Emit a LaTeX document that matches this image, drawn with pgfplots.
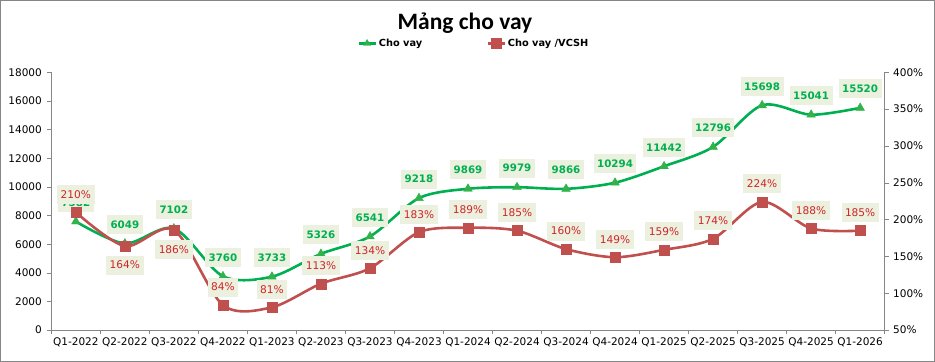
\documentclass[border=0pt]{standalone}
\usepackage{fontspec}
\setmainfont{DejaVu Sans}
\newfontfamily\carlito{Carlito}
\usepackage{pgfplots}
\usepackage{pgfplotstable}
\pgfplotsset{compat=1.18}
\definecolor{cvgreen}{RGB}{0,176,80}
\definecolor{cvgreenmk}{RGB}{50,178,75}
\definecolor{cvred}{RGB}{192,80,77}
\definecolor{cvredtxt}{RGB}{210,35,40}
\definecolor{lblfill}{RGB}{235,241,222}
\definecolor{axgray}{RGB}{134,134,134}

\pgfplotstableread{
x y dy
0 7582 19
1 6049 19
2 7102 19
3 3760 19
4 3733 19
5 5326 19
6 6541 19
7 9218 19
8 9869 19
9 9979 19
10 9866 19
11 10294 19
12 11442 19
13 12796 19
14 15698 19
15 15041 19
16 15520 19
}\loantable

\pgfplotstableread{
x y dy
0 210 18
1 164 -19
2 186 -20
3 84 18
4 81 18
5 113 18
6 134 18
7 183 18
8 189 18
9 185 18
10 160 18
11 149 18
12 159 18
13 174 18
14 224 18
15 188 18
16 185 18
}\ratiotable

\tikzset{lbl/.style={fill=lblfill, inner xsep=3.5pt, minimum height=19pt, anchor=center}}

\pgfplotsset{
  common/.style={
    at={(51pt,31pt)}, anchor=south west,
    scale only axis, width=834pt, height=258pt,
    xmin=-0.5, xmax=16.5,
    clip=false,
    tick align=outside,
    major tick length=4pt,
    tick style={axgray, line width=0.6pt},
    axis line style={axgray, line width=0.8pt},
    tick label style={font=\fontsize{10.5}{12}\selectfont},
    scaled y ticks=false,
    /pgf/number format/assume math mode=true,
    /pgf/number format/1000 sep={},
  },
}

\begin{document}
\begin{tikzpicture}
\draw[axgray, line width=0.8pt] (0,0) rectangle (935pt,361pt);
\node[font=\carlito\bfseries\fontsize{23.5}{26}\selectfont] at (465pt,338pt) {Mảng cho vay};

\begin{axis}[common,
  axis x line*=bottom, axis y line*=left,
  ymin=0, ymax=18000,
  ytick={0,2000,...,18000},
  xtick={-0.5,0.5,...,16.5},
  x tick label as interval,
  xticklabels={Q1-2022,Q2-2022,Q3-2022,Q4-2022,Q1-2023,Q2-2023,Q3-2023,Q4-2023,Q1-2024,Q2-2024,Q3-2024,Q4-2024,Q1-2025,Q2-2025,Q3-2025,Q4-2025,Q1-2026,},
  yticklabel style={xshift=-2pt},
]
\addplot[cvgreen, line width=2.6pt, smooth, tension=0.5,
  mark=triangle*, mark size=5pt, mark options={fill=cvgreenmk, draw=cvgreenmk, line width=0.4pt},
  point meta=explicit,
  visualization depends on={\thisrow{dy} \as \dy},
  nodes near coords={\pgfmathprintnumber{\pgfplotspointmeta}},
  every node near coord/.append style={lbl, yshift=\dy pt, text=cvgreen, font=\bfseries\fontsize{10.3}{12}\selectfont},
] table[x=x, y=y, meta=y] {\loantable};
\end{axis}

\begin{axis}[common,
  axis x line=none, axis y line*=right,
  ymin=50, ymax=400,
  ytick={50,100,...,400},
  yticklabel={\pgfmathprintnumber{\tick}\%},
  yticklabel style={xshift=1pt},
  legend style={at={(0.507,1.112)}, anchor=center, draw=none, fill=none,
    font=\bfseries\fontsize{9.8}{11}\selectfont, legend columns=2,
    /tikz/every even column/.append style={column sep=62pt}},
]
\addlegendimage{cvgreen, line width=2.6pt, mark=triangle*, mark size=4pt, mark options={fill=cvgreenmk, draw=cvgreenmk, line width=0.4pt}}
\addlegendentry{Cho vay}
\addplot[cvred, line width=2.6pt, smooth, tension=0.5,
  mark=square*, mark size=5pt, mark options={fill=cvred, draw=cvred, line width=0.4pt},
  point meta=explicit,
  visualization depends on={\thisrow{dy} \as \dy},
  nodes near coords={\pgfmathprintnumber{\pgfplotspointmeta}\%},
  every node near coord/.append style={lbl, yshift=\dy pt, text=cvredtxt, font=\fontsize{10.6}{12}\selectfont},
] table[x=x, y=y, meta=y] {\ratiotable};
\addlegendentry{Cho vay /VCSH}
\end{axis}
\end{tikzpicture}
\end{document}
